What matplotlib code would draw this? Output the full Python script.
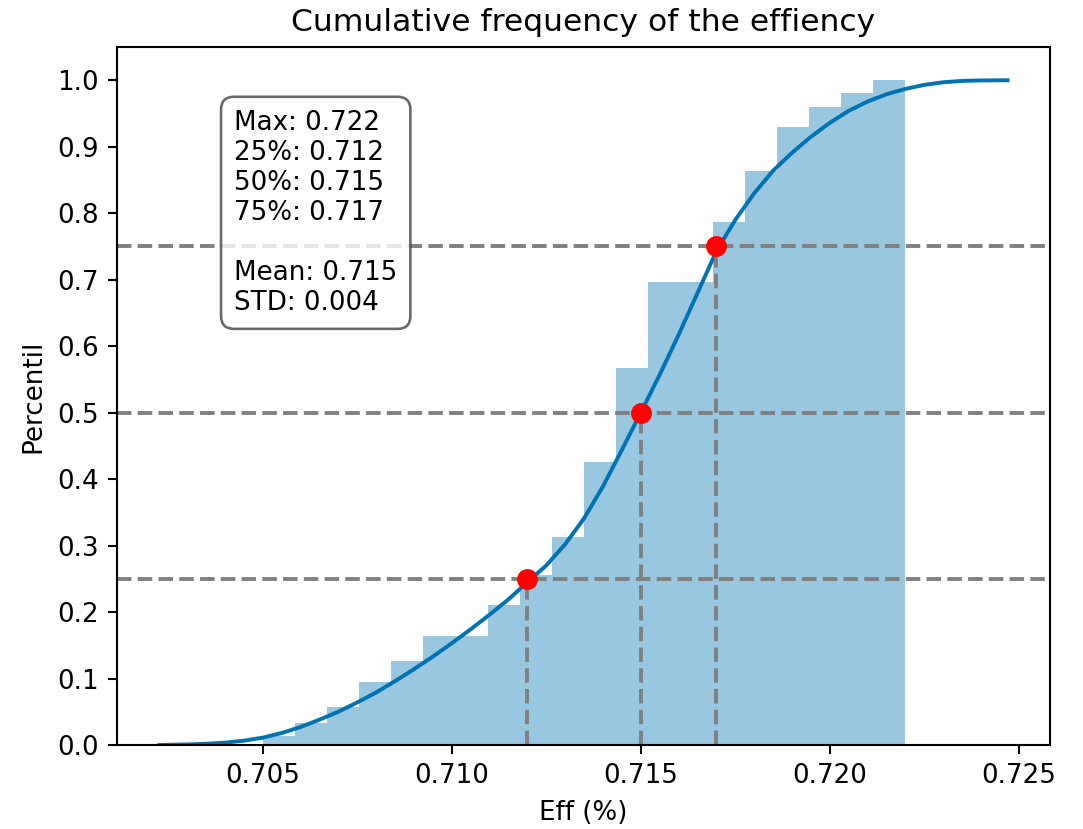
import numpy as np
import matplotlib
matplotlib.use("Agg")
import matplotlib.pyplot as plt

# histograma acumulado (20 classes entre min e max)
eff_min = 0.705
eff_max = 0.722
cum_freq = [0.0136, 0.0326, 0.0567, 0.0949, 0.1265, 0.164, 0.164, 0.210, 0.255, 0.313,
            0.425, 0.567, 0.696, 0.696, 0.786, 0.863, 0.930, 0.960, 0.981, 1.000]

# curva kde acumulada
kde_x = [0.70227, 0.7030, 0.7035, 0.7040, 0.7045, 0.7050, 0.7055, 0.7060, 0.7065, 0.7070,
         0.7075, 0.7080, 0.7085, 0.7090, 0.7095, 0.7100, 0.7105, 0.7110, 0.7115, 0.7120,
         0.7125, 0.7130, 0.7135, 0.7140, 0.7145, 0.7150, 0.7155, 0.7160, 0.7165, 0.7170,
         0.7175, 0.7180, 0.7185, 0.7190, 0.7195, 0.7200, 0.7205, 0.7210, 0.7215, 0.7220,
         0.7225, 0.7230, 0.7235, 0.7240, 0.72470]
kde_y = [0.0, 0.0008, 0.0018, 0.0035, 0.0065, 0.011, 0.018, 0.027, 0.038, 0.050,
         0.064, 0.079, 0.096, 0.114, 0.133, 0.153, 0.174, 0.196, 0.219, 0.245,
         0.270, 0.302, 0.341, 0.389, 0.444, 0.500, 0.557, 0.617, 0.680, 0.743,
         0.790, 0.830, 0.864, 0.891, 0.915, 0.936, 0.954, 0.968, 0.979, 0.987,
         0.993, 0.997, 0.999, 0.9997, 1.0]

# percentis
quartis = [0.712, 0.715, 0.717]
percentis = [0.25, 0.50, 0.75]
stats_txt = "Max: 0.722\n25%: 0.712\n50%: 0.715\n75%: 0.717\n\nMean: 0.715\nSTD: 0.004"

azul = "#0173b2"
dpi = 188

fig = plt.figure(figsize=(1083 / dpi, 829 / dpi), dpi=dpi)
ax = fig.add_axes([117 / 1083, 1 - 745 / 829, (1050 - 117) / 1083, (745 - 47) / 829])

edges = np.linspace(eff_min, eff_max, len(cum_freq) + 1)
ax.bar(edges[:-1], cum_freq, width=np.diff(edges), align="edge",
       color=azul, alpha=0.4, linewidth=0)
ax.plot(kde_x, kde_y, color=azul, lw=1.5)

for q, p in zip(quartis, percentis):
    ax.axhline(p, color="gray", ls="--", lw=1.5)
    ax.plot([q, q], [0, p], color="gray", ls="--", lw=1.5)
ax.plot(quartis, percentis, "o", color="red", ms=7)

ax.text(0.1255, 0.91, stats_txt, transform=ax.transAxes, fontsize=10, va="top", ha="left",
        bbox=dict(boxstyle="round,pad=0.5", facecolor="white", edgecolor="#444444", alpha=0.8))

ax.set_yticks(np.arange(0, 1.01, 0.1))
ax.set_xticks([0.705, 0.710, 0.715, 0.720, 0.725])
ax.set_xticklabels(["0.705", "0.710", "0.715", "0.720", "0.725"])
ax.set_title("Cumulative frequency of the effiency", fontsize=12)
ax.set_xlabel("Eff (%)")
ax.set_ylabel("Percentil")

fig.savefig("out.png", dpi=dpi)
